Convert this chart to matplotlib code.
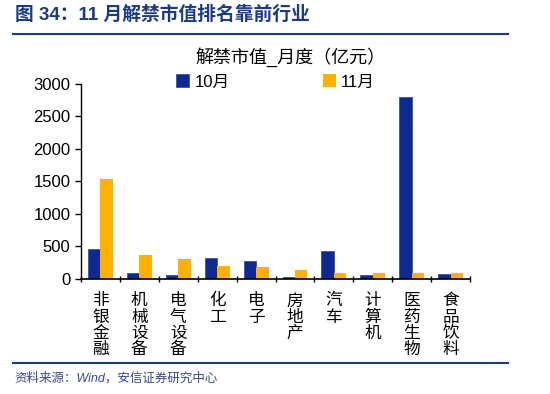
import numpy as np
import matplotlib.pyplot as plt
from matplotlib.lines import Line2D

plt.rcParams['font.family'] = ['Liberation Sans', 'Noto Sans CJK SC']

industries = ['非银金融', '机械设备', '电气设备', '化工', '电子', '房地产', '汽车', '计算机', '医药生物', '食品饮料']
oct_vals = [460, 90, 55, 310, 270, 30, 430, 50, 2800, 65]
nov_vals = [1530, 365, 305, 190, 175, 130, 85, 85, 85, 80]

blue = '#0F2A8E'
orange = '#FFB000'
navy = '#1A3A8A'

fig = plt.figure(figsize=(5.5, 3.94), dpi=100)
ax = fig.add_axes([0.147, 0.293, 0.708, 0.494])

x = np.arange(len(industries))
w = 0.32
ax.bar(x - w / 2, oct_vals, w, color=blue, label='10月', edgecolor='#3A52A8', linewidth=0.6)
ax.bar(x + w / 2, nov_vals, w, color=orange, label='11月')

ax.set_xlim(-0.5, len(industries) - 0.5)
ax.set_ylim(0, 3000)
ax.set_yticks(np.arange(0, 3001, 500))
ax.tick_params(axis='y', labelsize=12, length=4, width=1)
ax.set_xticks(np.arange(-0.5, len(industries), 1))
ax.set_xticklabels([])
ax.tick_params(axis='x', length=5, direction='inout', width=1)

# vertical category labels, one character per line
for xi, name in zip(x, industries):
    ax.annotate('\n'.join(name), xy=(xi, 0), xycoords=('data', 'axes fraction'),
                xytext=(0, -10), textcoords='offset points', ha='center', va='top',
                fontsize=12, linespacing=0.93, family='Noto Sans CJK SC', rotation=0)

for s in ['top', 'right']:
    ax.spines[s].set_visible(False)
ax.spines['left'].set_linewidth(1)
ax.spines['bottom'].set_linewidth(1.2)

fig.text(0.528, 0.855, '解禁市值_月度（亿元）', ha='center', va='center', fontsize=13)
ax.legend(loc='center', bbox_to_anchor=(0.5, 1.01), ncol=2, frameon=False, fontsize=12,
          handlelength=0.8, handleheight=0.8, handletextpad=0.3, columnspacing=5.6)

fig.text(0.027, 0.962, '图 34：11 月解禁市值排名靠前行业', ha='left', va='center',
         fontsize=13.5, fontweight='bold', color=navy)
fig.add_artist(Line2D([0.024, 0.924], [0.914, 0.914], color=navy, lw=1.5))
fig.add_artist(Line2D([0.024, 0.924], [0.079, 0.079], color=navy, lw=1.5))
fig.text(0.027, 0.04, '资料来源：Wind，安信证券研究中心', ha='left', va='center',
         fontsize=9, style='italic', color='#3A4A8A')

fig.savefig('out.png', dpi=100)
